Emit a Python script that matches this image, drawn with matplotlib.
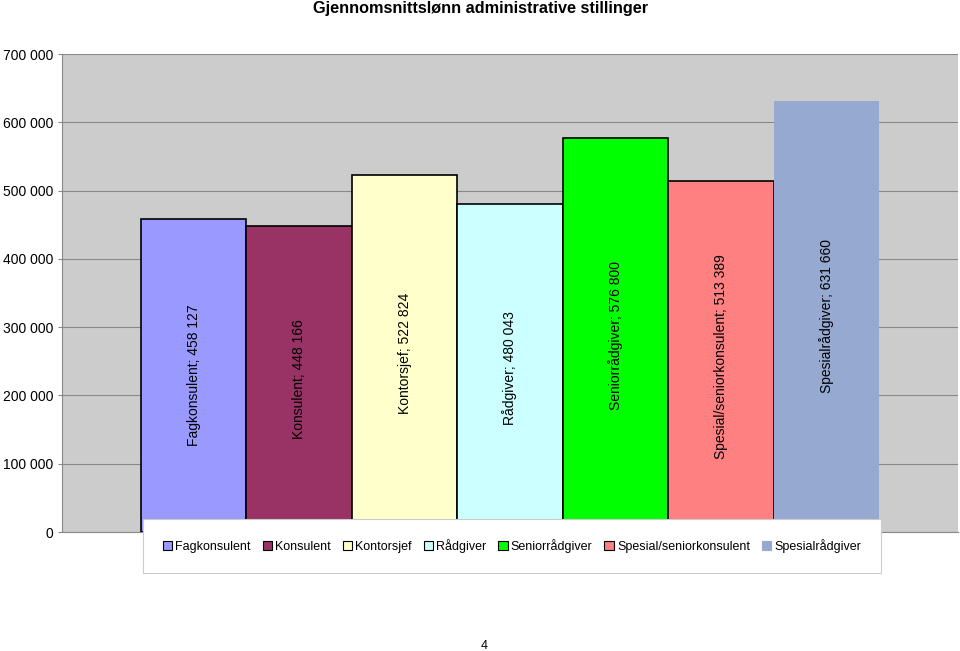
import matplotlib.pyplot as plt
from matplotlib.patches import Patch

titles = ["Fagkonsulent", "Konsulent", "Kontorsjef", "Rådgiver",
          "Seniorrådgiver", "Spesial/seniorkonsulent", "Spesialrådgiver"]
salaries = [458127, 448166, 522824, 480043, 576800, 513389, 631660]
colors = ["#9999FF", "#993366", "#FFFFCC", "#CCFFFF",
          "#00FF00", "#FF8080", "#95A9D1"]
edges = ["black"] * 6 + ["none"]
yticks = [0, 100000, 200000, 300000, 400000, 500000, 600000, 700000]

plt.rcParams['font.family'] = ['Liberation Sans', 'DejaVu Sans']

fig = plt.figure(figsize=(9.6, 6.51), dpi=100)
ax = fig.add_axes([62/960, 1-532/651, (958-62)/960, (532-54)/651])
ax.set_facecolor("#CCCCCC")

xs = list(range(len(titles)))
ax.bar(xs, salaries, width=1.0, color=colors, edgecolor=edges, linewidth=1.2, zorder=3)

def fmt(v):
    return f"{v:,}".replace(",", " ")

for x, name, v in zip(xs, titles, salaries):
    ax.text(x, v/2, f"{name}; {fmt(v)}", rotation=90, ha="center", va="center",
            fontsize=10, zorder=4)

ax.set_xlim(-1.25, 7.25)
ax.set_ylim(0, 700000)
ax.set_yticks(yticks)
ax.set_yticklabels([fmt(t) for t in yticks], fontsize=10)
ax.set_xticks([])
ax.grid(axis="y", color="#888888", linewidth=0.8, zorder=0)
for s in ["top", "right"]:
    ax.spines[s].set_visible(False)
for s in ["left", "bottom"]:
    ax.spines[s].set_color("#888888")
ax.tick_params(axis="y", length=3, color="#888888", pad=3)

handles = [Patch(facecolor=c, edgecolor=("black" if e != "none" else c), linewidth=0.8)
           for c, e in zip(colors, edges)]
leg = fig.legend(handles, titles, loc="center", bbox_to_anchor=(512/960, 1-546/651),
                 ncol=7, fontsize=9, frameon=True, fancybox=False, framealpha=1,
                 handlelength=0.75, handleheight=0.75, handletextpad=0.25,
                 columnspacing=0.95, borderpad=1.6, borderaxespad=0)
leg.get_frame().set_edgecolor("#CCCCCC")
leg.get_frame().set_facecolor("white")
leg.get_frame().set_linewidth(0.8)
leg.set_zorder(10)

fig.text(481/960, 1-8/651, "Gjennomsnittslønn administrative stillinger",
         ha="center", va="center", fontsize=11.7, fontweight="bold")
fig.text(484/960, 1-646/651, "4", ha="center", va="center", fontsize=9)

fig.savefig("out.png", dpi=100)
